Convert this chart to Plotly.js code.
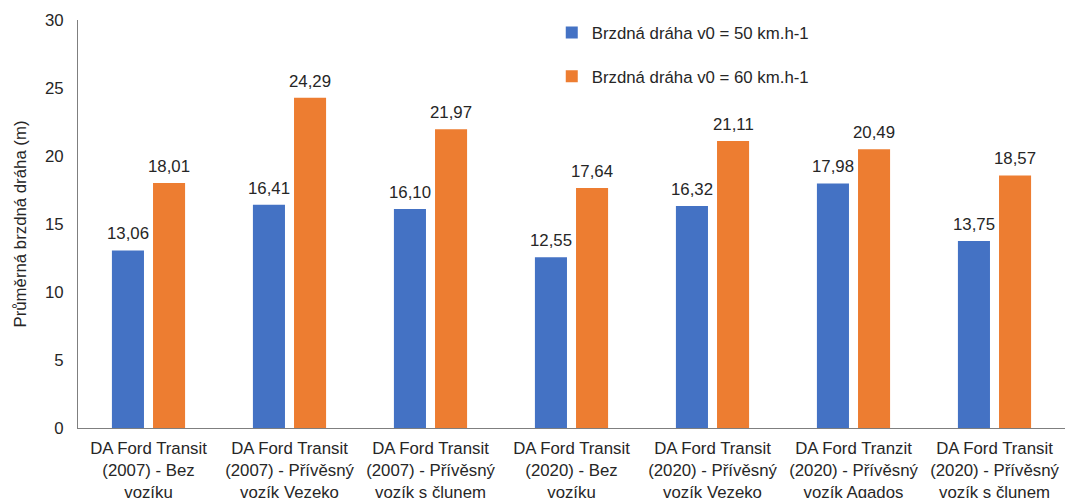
<!DOCTYPE html>
<html><head><meta charset="utf-8">
<script src="https://cdn.plot.ly/plotly-3.0.1.min.js"></script>
<style>html,body{margin:0;padding:0;background:#fff}#chart{width:1065px;height:498px}</style>
</head><body><div id="chart"></div>
<script>
const categories = [
  "DA Ford Transit<br>(2007) - Bez<br>vozíku",
  "DA Ford Transit<br>(2007) - Přívěsný<br>vozík Vezeko",
  "DA Ford Transit<br>(2007) - Přívěsný<br>vozík s člunem",
  "DA Ford Transit<br>(2020) - Bez<br>vozíku",
  "DA Ford Transit<br>(2020) - Přívěsný<br>vozík Vezeko",
  "DA Ford Tranzit<br>(2020) - Přívěsný<br>vozík Agados",
  "DA Ford Transit<br>(2020) - Přívěsný<br>vozík s člunem"
];
const series50 = [13.06, 16.41, 16.10, 12.55, 16.32, 17.98, 13.75];
const series60 = [18.01, 24.29, 21.97, 17.64, 21.11, 20.49, 18.57];
const seriesNames = ["Brzdná dráha v0 = 50 km.h-1", "Brzdná dráha v0 = 60 km.h-1"];
const yTitle = "Průměrná brzdná dráha (m)";

const font = {family: "Liberation Sans, Arial, sans-serif", size: 16.8, color: "#262626"};
const fmt = v => v.toFixed(2).replace(".", ",");
function trace(y, name, color, grp) {
  return {
    type: "bar", x: categories, y: y, name: name, legendgroup: grp,
    marker: {color: color}, hoverinfo: "skip"
  };
}
const data = [
  trace(series50, seriesNames[0], "#4472C4", "a"),
  trace(series60, seriesNames[1], "#ED7D31", "b")
];
const annotations = [];
[[series50, -20.5], [series60, 20.5]].forEach(([ys, dx]) => {
  ys.forEach((v, i) => annotations.push({
    x: categories[i], y: v, xref: "x", yref: "y", text: fmt(v),
    showarrow: false, xshift: dx, yshift: 5, yanchor: "bottom", font: font
  }));
});
const layout = {
  width: 1065, height: 498,
  margin: {l: 78, r: 0, t: 20, b: 70},
  paper_bgcolor: "#fff", plot_bgcolor: "#fff",
  font: font,
  separators: ",.",
  barmode: "group", bargap: 0.417, bargroupgap: 0.22,
  showlegend: true,
  legend: {x: 0.480, y: 1.012, xanchor: "left", yanchor: "top", font: font,
           traceorder: "grouped", tracegroupgap: 19, bgcolor: "rgba(0,0,0,0)"},
  annotations: annotations,
  xaxis: {showline: true, linecolor: "#7f7f7f", linewidth: 1, ticks: "",
          tickfont: font, showgrid: false, zeroline: false, automargin: false,
          tickangle: 0, ticklabelstandoff: 5},
  yaxis: {range: [0, 30], dtick: 5, showline: true, linecolor: "#7f7f7f", linewidth: 1,
          ticks: "", showgrid: false, zeroline: false, tickfont: font, automargin: false,
          ticklabelstandoff: 10,
          title: {text: yTitle, font: font, standoff: 14}}
};
Plotly.newPlot("chart", data, layout, {displayModeBar: false, staticPlot: true});
</script></body></html>
